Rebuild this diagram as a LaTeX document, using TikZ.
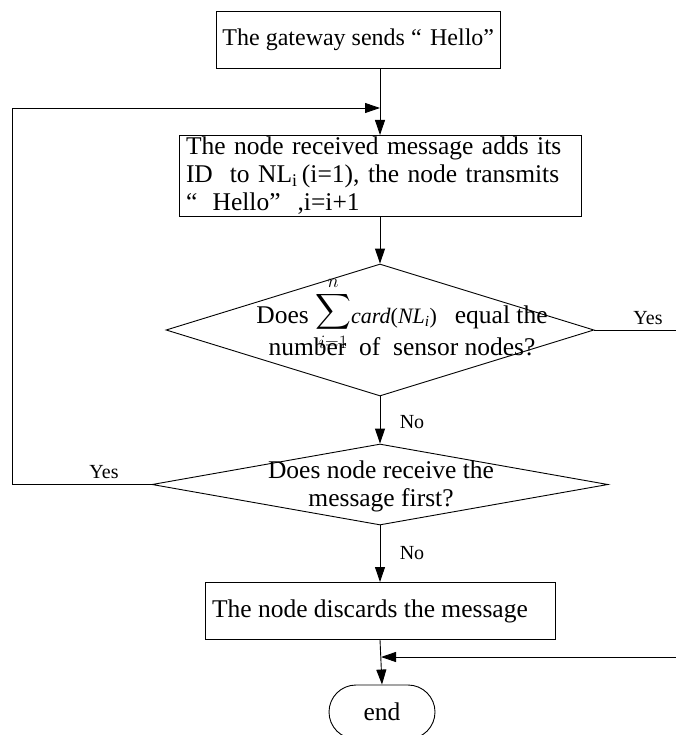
\documentclass[tikz,border=0pt]{standalone}
\usepackage{fix-cm}
\usepackage{exscale}
\usepackage{fontspec}
\setmainfont{Liberation Serif}
\usetikzlibrary{arrows.meta,shapes.geometric,shapes.misc}
\begin{document}
\begin{tikzpicture}[x=1pt,y=-1pt,line width=0.9pt,
  every node/.style={font=\fontsize{25.5}{28}\selectfont},
  procbox/.style={draw, rectangle, inner ysep=1.5pt, align=left},
  decision/.style={draw, diamond, inner sep=0pt},
  term/.style={draw, rounded rectangle, minimum width=106pt, minimum height=54pt, inner sep=0pt},
  lbl/.style={font=\fontsize{20}{24}\selectfont},
  arr/.style={-{Triangle[length=15pt,width=10pt]}}]
\useasboundingbox (0,0) rectangle (676,735);

% boxes
\node[procbox, inner xsep=6pt, minimum height=57pt, anchor=north west, font=\fontsize{24}{28}\selectfont] (b1) at (216,11)
  {\makebox[272pt][l]{The gateway sends “\hspace{0.35em}Hello”}};
\node[procbox, text width=388pt, inner xsep=7pt, minimum height=78pt, anchor=north] (b2) at (380,135)
  {The node received message adds its\\
   ID\ \ to NL\textsubscript{i}\,(i=1), the node transmits\\
   “\hspace{0.6em}Hello”\ \ ,i=i+1};
\node[decision, minimum width=428pt, minimum height=132pt] (d1) at (380,330) {};
\node[align=center] (d1t) at (402,331)
  {Does \smash{\raisebox{5pt}{\fontsize{27}{30}\selectfont$\displaystyle\sum_{\scriptstyle i=1}^{\scriptstyle n}$}}{\fontsize{22}{26}\selectfont\textit{card}(\textit{NL}\textsubscript{\textit{i}})}\hspace{0.7em}equal the\\[4pt]
   number\ \ of\ \ sensor nodes?};
\node[decision, minimum width=456pt, minimum height=81pt] (d2) at (380,484.5) {};
\node[align=center] (d2t) at (381,486) {Does node receive the\\message first?};
\node[procbox, inner xsep=7pt, minimum height=57pt, anchor=north] (b3) at (380,582)
  {\makebox[336pt][l]{The node discards the message}};
\node[term] (e) at (382,712) {end};

% helper coordinates
\coordinate (j1) at (380,108);
\coordinate (lx) at (12,108);
\coordinate (rx1) at (676,330);
\coordinate (rx2) at (676,657);
\coordinate (j2) at (381,657);

% connectors
\draw[arr] (b1.south -| b2.north) -- (b2.north);
\draw[arr] (d2.west) -| (lx) -- (j1);
\draw[arr] (b2.south) -- (d1.north);
\draw[arr] (d1.south) -- (d2.north);
\draw (d1.east) -- (rx1);
\draw[arr] (d2.south) -- (b3.north);
\draw[arr] (b3.south) -- (e.north);
\draw[arr] (rx2) -- (j2);

% labels
\node[lbl] (y1) at (648,318) {Yes};
\node[lbl] (n1) at (412,422) {No};
\node[lbl] (y2) at (104,472) {Yes};
\node[lbl] (n2) at (412,553) {No};
\end{tikzpicture}
\end{document}
